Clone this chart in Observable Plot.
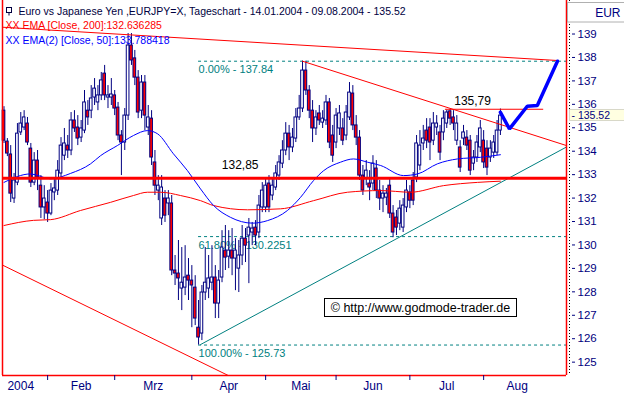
<!DOCTYPE html>
<html><head><meta charset="utf-8">
<script src="https://cdn.jsdelivr.net/npm/d3@7"></script>
<script src="https://cdn.jsdelivr.net/npm/@observablehq/plot@0.6"></script>
<style>
html,body{margin:0;padding:0;background:#fff;}
#chart svg{display:block;}
</style></head><body>
<div id="chart"></div>
<script>
// ---- Daily candles EUR/JPY, 14.01.2004 - 09.08.2004 (trading-day index 0..148)
const open = [135.73,134.41,133.86,131.98,132.66,134.80,135.01,135.18,134.11,132.66,
133.60,132.53,131.60,131.81,131.34,132.24,132.32,133.05,133.81,134.24,
134.03,135.31,135.01,134.58,134.88,135.73,135.73,136.29,136.08,136.38,
137.31,136.29,136.29,136.38,135.86,134.67,134.37,135.52,138.51,137.96,
137.14,135.73,136.93,135.01,135.39,133.52,132.32,131.13,131.98,131.77,
131.77,128.91,128.78,128.14,128.18,128.69,128.48,128.18,126.47,126.22,
127.97,128.14,128.39,128.61,127.50,128.61,129.76,129.50,129.76,129.42,
128.99,129.55,130.27,130.40,130.53,130.74,130.53,131.60,131.60,132.62,
132.11,132.45,132.96,133.47,134.03,134.75,134.16,134.54,135.44,135.82,
137.44,136.59,135.73,134.97,135.61,135.22,135.31,136.08,134.67,134.37,
134.97,134.97,134.67,135.44,136.46,135.10,134.58,132.96,132.83,132.62,
132.62,133.26,132.32,131.98,132.02,132.53,131.34,131.17,130.91,130.74,
131.60,132.24,132.75,132.88,133.39,134.33,134.88,135.01,134.45,135.01,
134.80,134.80,135.18,135.70,135.44,134.45,134.16,134.54,134.58,134.45,
133.47,133.73,134.16,134.45,134.11,133.73,133.94,133.94,134.88];
const high = [135.90,134.54,134.24,133.05,135.18,135.65,135.73,135.44,134.33,133.94,
134.03,132.96,132.53,132.32,132.62,132.83,133.60,134.58,134.97,134.67,
135.65,135.73,135.52,135.31,136.59,136.16,136.80,137.10,136.80,137.36,
137.66,136.80,137.10,136.59,136.08,134.88,135.82,139.02,139.02,138.30,
137.44,137.23,137.23,135.95,135.73,134.03,132.96,132.96,132.32,132.32,
132.11,129.55,130.19,129.89,129.97,129.42,129.12,128.69,127.63,128.27,
129.89,129.55,129.97,129.12,128.91,130.61,130.83,130.61,130.70,130.27,
130.19,130.83,130.70,131.13,130.96,131.04,132.11,132.66,132.83,132.96,
132.83,133.39,133.81,134.45,135.22,135.10,134.97,135.82,136.38,137.84,
137.84,136.80,136.16,135.73,135.95,135.73,136.38,136.25,135.10,135.82,
135.95,135.39,135.95,136.93,136.80,135.52,134.88,133.39,133.60,133.17,
133.81,133.60,132.75,132.53,132.41,132.83,131.68,131.47,131.89,131.98,
132.75,132.53,133.09,134.67,134.88,135.10,135.39,135.39,135.65,135.52,
135.10,135.73,135.75,135.79,135.73,135.52,134.45,135.10,134.88,134.67,
134.03,134.67,135.31,134.88,134.45,134.45,134.67,135.31,135.80];
const low = [134.33,133.77,131.81,131.77,132.53,134.67,134.88,134.24,132.45,132.53,
132.32,131.13,131.08,130.96,131.25,131.89,132.11,132.83,133.60,133.69,
133.81,134.80,134.24,134.37,134.75,135.10,135.39,135.95,135.73,136.16,
136.16,135.82,135.95,135.52,134.45,132.96,134.03,135.31,137.66,136.80,
135.39,135.39,134.88,134.67,133.39,132.11,131.89,130.83,130.96,131.25,
128.69,128.27,127.63,127.20,127.84,127.63,126.47,126.56,125.73,125.92,
127.63,127.71,128.05,126.86,126.86,128.39,128.91,128.99,128.69,128.05,
127.97,129.12,129.25,128.35,129.97,129.97,130.27,131.38,131.38,131.38,
131.89,132.32,132.75,133.26,133.81,133.60,133.94,134.37,135.31,135.65,
136.38,135.39,134.37,134.67,135.10,134.97,135.10,134.11,133.52,134.11,
134.67,134.24,134.45,135.31,134.88,134.24,132.75,132.11,132.53,131.89,
132.32,131.98,131.47,131.38,131.68,131.13,130.31,130.40,130.61,130.53,
131.38,131.55,131.68,132.66,133.17,134.03,134.11,133.60,134.24,134.67,
133.60,134.45,134.97,135.10,134.88,134.24,133.09,134.24,134.03,132.96,
133.17,133.52,133.94,133.26,132.96,133.52,133.69,133.81,134.67];
const close = [134.45,133.90,132.19,132.75,134.75,135.18,135.44,134.37,132.66,133.60,
132.88,131.60,131.98,131.34,132.32,132.41,133.17,134.24,134.33,134.03,
135.31,134.97,134.54,134.97,136.08,135.44,136.25,136.67,136.38,137.02,
136.38,136.38,136.42,135.82,134.67,134.37,135.52,138.51,137.87,137.14,
135.65,136.93,135.52,135.44,133.73,132.53,132.53,132.45,131.25,131.98,
128.91,128.78,128.57,128.39,128.61,128.48,128.27,126.86,126.05,127.97,
128.39,128.57,128.61,127.50,128.48,129.89,129.46,129.76,129.42,129.76,
129.55,130.27,129.97,130.74,130.70,130.40,131.68,132.32,132.53,131.60,
132.53,133.05,133.52,134.03,134.75,134.16,134.58,135.44,135.82,137.44,
136.59,135.73,134.97,135.44,135.31,135.39,136.08,134.37,133.81,135.52,
135.61,134.45,135.65,136.50,135.10,134.58,132.96,132.32,133.17,132.45,
133.47,132.32,131.98,132.19,132.19,131.34,130.53,130.74,131.55,131.68,
132.32,131.89,131.89,134.33,134.24,134.54,134.45,134.37,135.18,135.18,
133.94,135.39,135.65,135.39,135.18,135.18,133.30,134.80,134.24,133.17,
133.73,134.37,134.97,133.52,133.30,134.11,134.37,134.88,135.52];

// ---- EMA curves (read points: trading-day index, value)
const ema200Idx = [0,8.8,13.9,22.8,31.8,38.6,42.8,46.7,52.6,58.6,62.5,72.6,82.4,92.3,102.4,112.3,121.2,131,141.2,148];
const ema200Val = [130.83,131.05,131.08,131.47,131.82,132.11,132.25,132.25,132.11,131.89,131.68,131.50,131.54,131.89,132.25,132.32,132.25,132.53,132.67,132.72];
const ema50Idx = [0,7.9,13.9,19.8,25.8,28.8,33.8,38.6,42.8,45.8,50.5,54.7,58.6,62.5,67.5,74.1,78.6,84.5,88.4,92.3,95.3,100.3,104.2,108.4,112.3,119.1,123.3,129.2,135.2,142.1,148];
const ema50Val = [132.67,133.03,132.82,133.05,133.46,133.81,134.24,134.67,134.88,134.74,133.89,133.17,132.39,131.68,131.18,130.93,131.04,131.47,132.03,132.75,133.17,133.53,133.67,133.53,133.39,132.96,133.03,133.46,133.67,133.74,133.85];

// ---- Axis labels
const monthNames = ["2004","Feb","Mrz","Apr","Mai","Jun","Jul","Aug"];
const monthStarts = [0,13,33,56,78,99,121,143];
const monthBounds = [-3,13,33,56,78,99,121,143,163];
const priceTicks = [125,126,127,128,129,130,131,132,133,134,135,136,137,138,139];

// ---- Drawn studies
const trendTopIdx = [-0.45,165];   const trendTopVal = [139.29,137.87];
const trendMayIdx = [89,167.7];    const trendMayVal = [137.84,134.24];
const trendLowIdx = [-0.45,70];    const trendLowVal = [129.14,124.21];
const supportIdx = [58.6,167.7];   const supportVal = [125.75,134.18];
const arrowIdx = [148,150.7,156,159,165];
const arrowVal = [135.66,134.95,135.92,135.95,137.84];
const level1 = 132.85; const level1Text = "132,85";
const level2 = 135.79; const level2Text = "135,79"; const level2Span = [131.6,160.9];
const fibHigh = 137.84, fibLow = 125.73, fibLowIdx = 58;
const fibPct = [0, 61.8, 100];
const fibText = ["0.00% - 137.84","61.80% - 130.2251","100.00% - 125.73"];

const titleText = "Euro vs Japanese Yen ,EURJPY=X, Tageschart - 14.01.2004 - 09.08.2004 - 135.52";
const ema200Text = "XX EMA [Close, 200]:132.636285";
const ema50Text = "XX EMA(2) [Close, 50]:133.788418";
const copyText = "\u00A9 http://www.godmode-trader.de";

// ---- build
const candles = close.map((c, i) => ({i, o: open[i], h: high[i], l: low[i], c}));
const pts = (xs, ys) => xs.map((x, k) => ({x, y: ys[k]}));
const fib = fibPct.map((p, k) => ({y: fibHigh - p / 100 * (fibHigh - fibLow), t: fibText[k]}));
const months = monthNames.map((n, k) => ({n, x: (monthBounds[k] + monthBounds[k + 1]) / 2}));

const xDomain = [-0.45, 167.7];
const yDomain = [124.43, 140.43];
const RED = "#ff0000", NAVY = "#000080", BLUE = "#0000ff", TEAL = "#008080";
const FONT = "Liberation Sans, Arial, sans-serif";

const chart = Plot.plot({
  width: 624, height: 397,
  marginLeft: 2, marginRight: 58, marginTop: 0, marginBottom: 22,
  style: {fontFamily: FONT, background: "#fff", overflow: "visible"},
  x: {domain: xDomain, axis: null},
  y: {domain: yDomain, axis: null},
  marks: [
    // fib levels
    Plot.ruleY(fib, {y: "y", x1: fibLowIdx, x2: xDomain[1], stroke: TEAL, strokeWidth: 1, strokeDasharray: "3,3"}),
    Plot.text(fib, {x: fibLowIdx, y: "y", text: "t", textAnchor: "start", dy: 8.5, fill: TEAL, fontSize: 11}),
    // candles
    Plot.ruleX(candles, {x: "i", y1: "l", y2: "h", stroke: NAVY, strokeWidth: 1}),
    Plot.rect(candles, {x1: d => d.i - 0.4, x2: d => d.i + 0.4,
      y1: d => Math.min(d.o, d.c), y2: d => Math.max(d.o, d.c),
      fill: d => d.c < d.o ? RED : "#ffffff", stroke: NAVY, strokeWidth: 1}),
    // moving averages
    Plot.line(pts(ema200Idx, ema200Val), {x: "x", y: "y", stroke: RED, strokeWidth: 1, curve: "monotone-x"}),
    Plot.line(pts(ema50Idx, ema50Val), {x: "x", y: "y", stroke: BLUE, strokeWidth: 1, curve: "monotone-x"}),
    // trend lines
    Plot.line(pts(trendTopIdx, trendTopVal), {x: "x", y: "y", stroke: RED, strokeWidth: 1, clip: true}),
    Plot.line(pts(trendMayIdx, trendMayVal), {x: "x", y: "y", stroke: RED, strokeWidth: 1, clip: true}),
    Plot.line(pts(trendLowIdx, trendLowVal), {x: "x", y: "y", stroke: RED, strokeWidth: 1, clip: true}),
    Plot.line(pts(supportIdx, supportVal), {x: "x", y: "y", stroke: TEAL, strokeWidth: 1, clip: true}),
    // levels
    Plot.ruleY([level1], {stroke: RED, strokeWidth: 3}),
    Plot.text([level1], {x: 70.4, y: d => d, text: () => level1Text, dy: -13, fill: "#000", fontSize: 12}),
    Plot.ruleY([level2], {x1: level2Span[0], x2: level2Span[1], stroke: RED, strokeWidth: 1}),
    Plot.text([level2], {x: 139.7, y: d => d, text: () => level2Text, dy: -8, fill: "#000", fontSize: 12}),
    // forecast
    Plot.line(pts(arrowIdx, arrowVal), {x: "x", y: "y", stroke: BLUE, strokeWidth: 3.5, strokeLinejoin: "miter"}),
    // copyright
    Plot.text([copyText], {x: 97.4, y: 127.33, text: d => d, textAnchor: "start", fill: "#000", fontSize: 12.5}),
    // frame
    Plot.ruleX([xDomain[0]], {stroke: RED, strokeWidth: 1.5}),
    Plot.ruleX([xDomain[1]], {stroke: RED, strokeWidth: 1.5}),
    Plot.ruleY([yDomain[0]], {stroke: RED, strokeWidth: 1.5}),
    Plot.ruleX([xDomain[1]], {dx: 3, stroke: "#000", strokeWidth: 1, strokeDasharray: "1,2"}),
    // axes
    Plot.axisY(priceTicks, {anchor: "right", tickSize: 3, tickPadding: 3, dx: 5, color: NAVY, fontSize: 11.5, label: null}),
    Plot.axisX(monthStarts.slice(1), {anchor: "bottom", tickSize: 5, tickFormat: () => "", color: NAVY, label: null}),
    Plot.text(months, {x: "x", text: "n", frameAnchor: "bottom", dy: 14, fill: NAVY, fontSize: 12}),
    // header texts
    Plot.text([titleText], {frameAnchor: "top-left", text: d => d, textAnchor: "start", lineAnchor: "middle", dx: 16, dy: 11, fill: "#000040", fontSize: 10.5}),
    Plot.text([ema200Text], {frameAnchor: "top-left", text: d => d, textAnchor: "start", lineAnchor: "middle", dx: 3, dy: 25.5, fill: RED, fontSize: 10.5}),
    Plot.text([ema50Text], {frameAnchor: "top-left", text: d => d, textAnchor: "start", lineAnchor: "middle", dx: 3, dy: 40.5, fill: BLUE, fontSize: 10.5}),
    Plot.text(["EUR"], {frameAnchor: "top-right", text: d => d, textAnchor: "end", lineAnchor: "middle", dx: 54, dy: 12.5, fill: NAVY, fontSize: 12}),
    Plot.text([close[close.length - 1]], {y: d => d, frameAnchor: "right", text: d => "- " + d.toFixed(2), textAnchor: "start", dx: 5, fill: NAVY, fontSize: 10.5})
  ]
});

document.getElementById("chart").append(chart);

// boxes behind some labels
const NS = "http://www.w3.org/2000/svg";
const base = chart.getBoundingClientRect();
function boxBehind(str, f) {
  const t = Array.from(chart.querySelectorAll("text")).find(n => n.textContent === str);
  if (!t) return;
  const b = t.getBoundingClientRect();
  const r = f({l: b.left - base.left, t: b.top - base.top, w: b.width, h: b.height});
  const rect = document.createElementNS(NS, "rect");
  for (const k in r) rect.setAttribute(k, r[k]);
  const g = t.parentNode;
  chart.appendChild(rect); chart.appendChild(g);
}
boxBehind(copyText, b => ({x: Math.round(b.l - 7) + 0.5, y: Math.round(b.t - 2.5) + 0.5, width: Math.round(b.w + 13), height: Math.round(b.h + 4), fill: "#fff", stroke: "#000", "stroke-width": 1}));
boxBehind("EUR", b => ({x: 567.5, y: 2.5, width: 60, height: 19.5, fill: "#fff", stroke: "#b0b0b0", "stroke-width": 1}));
boxBehind("- " + close[close.length - 1].toFixed(2), b => ({x: 569.5, y: Math.round(b.t) + 0.5, width: 60, height: Math.round(b.h) - 1, fill: "#ffffe1", stroke: "#d8d8c8", "stroke-width": 1}));

// small candle icon before the title
const ic = d3.select(chart).append("g").attr("stroke", "#000040").attr("fill", "#fff");
ic.append("rect").attr("x", 6.5).attr("y", 7.5).attr("width", 5).attr("height", 5);
ic.append("line").attr("x1", 9).attr("x2", 9).attr("y1", 12.5).attr("y2", 15.5);
</script>
</body></html>
